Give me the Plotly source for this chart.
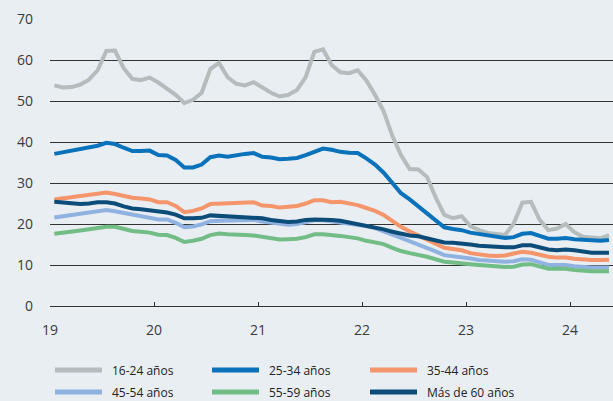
import plotly.graph_objects as go

# Monthly data, Jan 2019 - May 2024 (65 months)
start_year = 2019
n_months = 65

tick_vals = [2019, 2020, 2021, 2022, 2023, 2024]
tick_text = ["19", "20", "21", "22", "23", "24"]

names = ["16-24 años", "25-34 años", "35-44 años", "45-54 años", "55-59 años", "Más de 60 años"]

s16_24 = [53.8, 53.3, 53.4, 54.0, 55.2, 57.5, 62.2, 62.3, 58.0, 55.4, 55.1, 55.7,
          54.5, 53.0, 51.5, 49.5, 50.3, 52.0, 57.8, 59.3, 55.8, 54.2, 53.8, 54.6,
          53.3, 52.0, 51.1, 51.5, 52.7, 55.8, 62.0, 62.6, 58.8, 57.0, 56.8, 57.5,
          55.0, 51.5, 47.5, 41.5, 36.8, 33.4, 33.3, 31.5, 26.5, 22.2, 21.4, 21.9,
          19.5, 18.5, 17.8, 17.5, 17.3, 20.1, 25.2, 25.4, 21.0, 18.5, 18.9, 20.0,
          18.0, 16.9, 16.6, 16.5, 17.3]
s25_34 = [37.1, 37.5, 37.8, 38.1, 38.6, 39.1, 39.8, 39.5, 38.6, 37.8, 37.8, 37.9,
          36.8, 36.7, 35.6, 33.8, 33.8, 34.5, 36.3, 36.7, 36.4, 36.8, 37.1, 37.3,
          36.4, 36.2, 35.8, 35.9, 36.1, 36.8, 37.5, 38.4, 38.1, 37.6, 37.4, 37.3,
          36.0, 34.5, 32.5, 30.0, 27.5, 26.0, 24.3, 22.3, 20.6, 19.2, 18.8, 18.5,
          17.9, 17.6, 17.2, 16.9, 16.6, 16.8, 17.6, 17.8, 17.2, 16.4, 16.4, 16.6,
          16.3, 16.1, 16.0, 15.9, 16.1]
s35_44 = [26.0, 26.3, 26.6, 26.8, 27.2, 27.5, 27.7, 27.3, 26.8, 26.4, 26.2, 26.0,
          25.3, 25.3, 24.4, 22.9, 23.2, 23.8, 24.9, 25.0, 24.9, 25.1, 25.2, 25.3,
          24.5, 24.4, 24.0, 24.1, 24.4, 25.0, 25.8, 25.8, 25.3, 25.4, 25.1, 24.6,
          23.9, 23.2, 22.2, 20.6, 19.3, 18.2, 17.2, 16.3, 15.2, 14.2, 13.9, 13.6,
          12.9, 12.5, 12.3, 12.2, 12.3, 12.8, 13.2, 13.0, 12.4, 12.0, 11.8, 11.8,
          11.5, 11.3, 11.2, 11.2, 11.3]
s45_54 = [21.6, 21.9, 22.2, 22.4, 22.8, 23.1, 23.4, 23.1, 22.7, 22.3, 22.0, 21.7,
          21.1, 21.1, 20.3, 19.2, 19.4, 19.9, 20.7, 20.8, 20.8, 20.9, 21.0, 21.0,
          20.6, 20.3, 19.9, 19.8, 20.0, 20.5, 20.9, 20.9, 20.6, 20.4, 20.1, 19.9,
          19.5, 19.0, 18.1, 17.4, 16.6, 15.8, 15.1, 14.3, 13.3, 12.4, 12.2, 12.0,
          11.6, 11.2, 11.0, 10.8, 10.8, 10.9, 11.4, 11.3, 10.6, 10.0, 10.0, 10.0,
          9.7, 9.5, 9.4, 9.4, 9.4]
s55_59 = [17.6, 17.8, 18.1, 18.4, 18.7, 19.0, 19.3, 19.3, 18.8, 18.3, 18.1, 17.9,
          17.4, 17.3, 16.6, 15.6, 15.9, 16.4, 17.3, 17.7, 17.5, 17.3, 17.3, 17.2,
          16.8, 16.6, 16.2, 16.3, 16.4, 16.8, 17.5, 17.5, 17.4, 17.1, 16.8, 16.5,
          15.9, 15.5, 15.1, 14.2, 13.4, 12.9, 12.5, 12.0, 11.4, 10.8, 10.6, 10.5,
          10.2, 10.0, 9.8, 9.6, 9.5, 9.6, 10.1, 10.2, 9.6, 9.1, 9.1, 9.1,
          8.8, 8.6, 8.5, 8.5, 8.5]
s60_plus = [25.4, 25.2, 25.0, 24.9, 25.0, 25.3, 25.3, 25.0, 24.3, 23.8, 23.6, 23.4,
            23.1, 22.8, 22.3, 21.4, 21.4, 21.5, 22.1, 22.0, 21.9, 21.8, 21.7, 21.6,
            21.4, 21.0, 20.7, 20.5, 20.6, 21.0, 21.1, 21.1, 21.0, 20.8, 20.4, 20.0,
            19.7, 19.3, 18.7, 18.1, 17.6, 17.2, 17.0, 16.5, 15.8, 15.5, 15.4, 15.3,
            15.0, 14.7, 14.5, 14.3, 14.3, 14.3, 14.8, 14.8, 14.2, 13.8, 13.6, 13.8,
            13.6, 13.3, 13.0, 13.0, 13.0]

series = [s16_24, s25_34, s35_44, s45_54, s55_59, s60_plus]
colors = ["#B4BDBB", "#0A72BA", "#F4956B", "#8FB2E0", "#72BD86", "#0C4C78"]

# mid-month positions in fractional years
x = [start_year + (i + 0.5) / 12 for i in range(n_months)]

W, H = 613, 401
ML, MR, MT, MB = 50, 0, 19, 95
PW, PH = W - ML - MR, H - MT - MB

fig = go.Figure()
for name, ys, col in zip(names, series, colors):
    fig.add_trace(go.Scatter(x=x, y=ys, name=name, mode="lines",
                             line=dict(color=col, width=4), showlegend=False))

bg = "#E9EEF3"
font_family = "Open Sans, sans-serif"
txt_col = "#3A3A3A"

# Manual legend (3 columns x 2 rows) below the plot
def px_x(px):
    return (px - ML) / PW

def px_y(py):
    return (H - MB - py) / PH

col_line_x = [55, 212, 370]
row_y = [370, 392]
shapes = []
annotations = []
for k, (name, col) in enumerate(zip(names, colors)):
    r, c = divmod(k, 3)
    x0 = col_line_x[c]
    yy = px_y(row_y[r])
    shapes.append(dict(type="line", xref="paper", yref="paper",
                       x0=px_x(x0), x1=px_x(x0 + 47), y0=yy, y1=yy,
                       line=dict(color=col, width=5), layer="above"))
    annotations.append(dict(text=name, xref="paper", yref="paper",
                            x=px_x(x0 + 55), y=yy, xanchor="left", yanchor="middle",
                            showarrow=False,
                            font=dict(size=12, color="#222222", family=font_family)))

fig.update_layout(
    width=W, height=H,
    paper_bgcolor=bg, plot_bgcolor=bg,
    margin=dict(l=ML, r=MR, t=MT, b=MB, autoexpand=False),
    font=dict(family=font_family, size=14, color=txt_col),
    showlegend=False,
    shapes=shapes,
    annotations=annotations,
)
fig.update_xaxes(range=[2019, 2019 + 563 / 104], tickvals=tick_vals, ticktext=tick_text,
                 showgrid=False, zeroline=False, showline=True, linecolor="#333333",
                 linewidth=1.3, ticks="inside", ticklen=4, tickcolor="#333333",
                 ticklabelstandoff=11, tickfont=dict(size=14, color=txt_col))
fig.update_yaxes(range=[0, 70], dtick=10, showgrid=True, gridcolor="#333333", gridwidth=1.2,
                 zeroline=False, showline=False, ticks="", ticklabelstandoff=16,
                 tickfont=dict(size=14, color=txt_col))

fig.write_html("out.html", config={"displayModeBar": False},
               post_script="document.body.style.margin='0';document.body.style.background='%s';" % bg)
